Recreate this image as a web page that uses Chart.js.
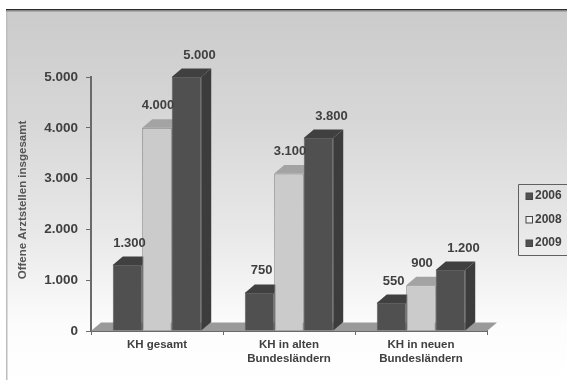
<!DOCTYPE html>
<html>
<head>
<meta charset="utf-8">
<style>
  html, body { margin: 0; padding: 0; background: #fff; }
  #wrap { position: relative; width: 567px; height: 380px; }
</style>
<script src="https://cdn.jsdelivr.net/npm/chart.js@4"></script>
</head>
<body>
<div id="wrap"><canvas id="chart" width="567" height="380"></canvas></div>
<script>
// Data
const categories = ['KH gesamt', ['KH in alten', 'Bundesländern'], ['KH in neuen', 'Bundesländern']];
const years = ['2006', '2008', '2009'];
const values2006 = [1300, 750, 550];
const values2008 = [4000, 3100, 900];
const values2009 = [5000, 3800, 1200];
const yAxisTitle = 'Offene Arztstellen insgesamt';

// Colors
const DARK_FRONT = '#505050';
const DARK_SIDE = '#3c3c3c';
const DARK_TOP = '#404040';
const LIGHT_FRONT = '#cbcbcb';
const LIGHT_SIDE = '#8f8f8f';
const LIGHT_TOP = '#a3a3a3';
const TEXT_COLOR = '#404040';
const AXIS_COLOR = '#6a6a6a';
const FONT_FAMILY = '"Liberation Sans", Arial, sans-serif';

// 3D extrusion of the bars and floor
const DEPTH_X = 10;
const DEPTH_Y = 8.5;

const faces = [
    { side: DARK_SIDE, top: DARK_TOP, marker: DARK_FRONT },
    { side: LIGHT_SIDE, top: LIGHT_TOP, marker: '#f0f0f0' },
    { side: DARK_SIDE, top: DARK_TOP, marker: DARK_FRONT }
];

// Horizontal nudge of the value labels per series
const labelShift = [2, 1, 13];

function polygon(ctx, points, fill) {
    ctx.beginPath();
    points.forEach((p, i) => (i ? ctx.lineTo(p[0], p[1]) : ctx.moveTo(p[0], p[1])));
    ctx.closePath();
    ctx.fillStyle = fill;
    ctx.fill();
}

function drawExtrusion(ctx, bar, face) {
    const half = bar.width / 2;
    const left = bar.x - half;
    const right = bar.x + half;
    polygon(ctx, [
        [left, bar.y],
        [left + DEPTH_X, bar.y - DEPTH_Y],
        [right + DEPTH_X, bar.y - DEPTH_Y],
        [right, bar.y]
    ], face.top);
    polygon(ctx, [
        [right, bar.y],
        [right + DEPTH_X, bar.y - DEPTH_Y],
        [right + DEPTH_X, bar.base - DEPTH_Y],
        [right, bar.base]
    ], face.side);
}

function drawValueLabels(chart) {
    const ctx = chart.ctx;
    ctx.save();
    ctx.font = 'bold 13px ' + FONT_FAMILY;
    ctx.fillStyle = TEXT_COLOR;
    ctx.textAlign = 'center';
    ctx.textBaseline = 'middle';
    chart.data.datasets.forEach((dataset, d) => {
        chart.getDatasetMeta(d).data.forEach((bar, i) => {
            const text = dataset.data[i].toLocaleString('de-DE');
            ctx.fillText(text, bar.x + labelShift[d], bar.y - 22);
        });
    });
    ctx.restore();
}

function drawLegendBox(chart) {
    const ctx = chart.ctx;
    ctx.save();
    ctx.strokeStyle = '#606060';
    ctx.lineWidth = 1;
    ctx.beginPath();
    ctx.moveTo(567, 184.5);
    ctx.lineTo(518.5, 184.5);
    ctx.lineTo(518.5, 255.5);
    ctx.lineTo(567, 255.5);
    ctx.stroke();
    ctx.font = 'bold 12px ' + FONT_FAMILY;
    ctx.textBaseline = 'middle';
    years.forEach((year, d) => {
        const y = 196 + d * 23.5;
        ctx.fillStyle = faces[d].marker;
        ctx.fillRect(526, y - 3, 6.5, 6.5);
        ctx.strokeStyle = '#444444';
        ctx.strokeRect(526, y - 3, 6.5, 6.5);
        ctx.fillStyle = TEXT_COLOR;
        ctx.fillText(year, 535, y);
    });
    ctx.restore();
}

// Rotated axis title, sits a little above the middle of the axis
function drawAxisTitle(chart) {
    const ctx = chart.ctx;
    ctx.save();
    ctx.translate(23, 200);
    ctx.rotate(-Math.PI / 2);
    ctx.font = 'bold 11.5px ' + FONT_FAMILY;
    ctx.fillStyle = '#555555';
    ctx.textAlign = 'center';
    ctx.textBaseline = 'middle';
    ctx.fillText(yAxisTitle, 0, 0);
    ctx.restore();
}

// Panel background, floor, side faces, value labels and legend
const pseudo3d = {
    id: 'pseudo3d',
    beforeDraw(chart) {
        const ctx = chart.ctx;
        const gradient = ctx.createLinearGradient(0, 10, 0, 380);
        gradient.addColorStop(0, '#cbcbcb');
        gradient.addColorStop(0.3, '#d7d7d7');
        gradient.addColorStop(0.6, '#e8e8e8');
        gradient.addColorStop(0.85, '#fcfcfc');
        gradient.addColorStop(1, '#ffffff');
        ctx.save();
        ctx.fillStyle = gradient;
        ctx.fillRect(6, 10, 561, 370);
        ctx.fillStyle = '#bdbdbd';
        ctx.fillRect(6, 10, 1.5, 370);
        ctx.fillStyle = '#2e2e2e';
        ctx.fillRect(6, 9, 561, 1.5);
        ctx.fillStyle = '#8c8c8c';
        ctx.fillRect(6, 10.5, 561, 1);
        ctx.restore();
    },
    // Paint the series left to right so each bar covers its neighbour's side face
    beforeDatasetsDraw(chart) {
        const { ctx, chartArea: a } = chart;
        polygon(ctx, [
            [a.left, a.bottom],
            [a.left + DEPTH_X, a.bottom - DEPTH_Y],
            [a.right + DEPTH_X, a.bottom - DEPTH_Y],
            [a.right, a.bottom]
        ], '#9a9a9a');
        chart.data.datasets.forEach((dataset, d) => {
            const meta = chart.getDatasetMeta(d);
            meta.data.forEach(bar => drawExtrusion(ctx, bar, faces[d]));
            meta.controller.draw();
        });
        return false;
    },
    afterDraw(chart) {
        drawValueLabels(chart);
        drawLegendBox(chart);
        drawAxisTitle(chart);
    }
};

function createDataset(label, data, color, border) {
    return {
        label,
        data,
        backgroundColor: color,
        borderColor: border,
        borderWidth: 1,
        barPercentage: 1,
        categoryPercentage: 0.67
    };
}

new Chart(document.getElementById('chart').getContext('2d'), {
    type: 'bar',
    data: {
        labels: categories,
        datasets: [
            createDataset(years[0], values2006, DARK_FRONT, '#5e5e5e'),
            createDataset(years[1], values2008, LIGHT_FRONT, '#7d7d7d'),
            createDataset(years[2], values2009, DARK_FRONT, '#5e5e5e')
        ]
    },
    options: {
        responsive: false,
        animation: false,
        layout: { padding: { top: 77, right: 80, bottom: 0, left: 0 } },
        plugins: {
            legend: { display: false },
            tooltip: { enabled: false }
        },
        scales: {
            x: {
                afterFit(scale) { scale.height = 49; },
                grid: { drawOnChartArea: false, color: AXIS_COLOR, tickLength: 4 },
                border: { color: AXIS_COLOR, width: 2 },
                ticks: {
                    color: TEXT_COLOR,
                    maxRotation: 0,
                    padding: 3,
                    font: { family: FONT_FAMILY, size: 11.5, weight: 'bold', lineHeight: 1.2 }
                }
            },
            y: {
                min: 0,
                max: 5000,
                afterFit(scale) { scale.width = 91; },
                grid: { drawOnChartArea: false, color: AXIS_COLOR, tickLength: 5 },
                border: { color: AXIS_COLOR, width: 2 },
                ticks: {
                    stepSize: 1000,
                    color: TEXT_COLOR,
                    padding: 8,
                    font: { family: FONT_FAMILY, size: 13.5, weight: 'bold' },
                    callback: value => value.toLocaleString('de-DE')
                }
            }
        }
    },
    plugins: [pseudo3d]
});
</script>
</body>
</html>
